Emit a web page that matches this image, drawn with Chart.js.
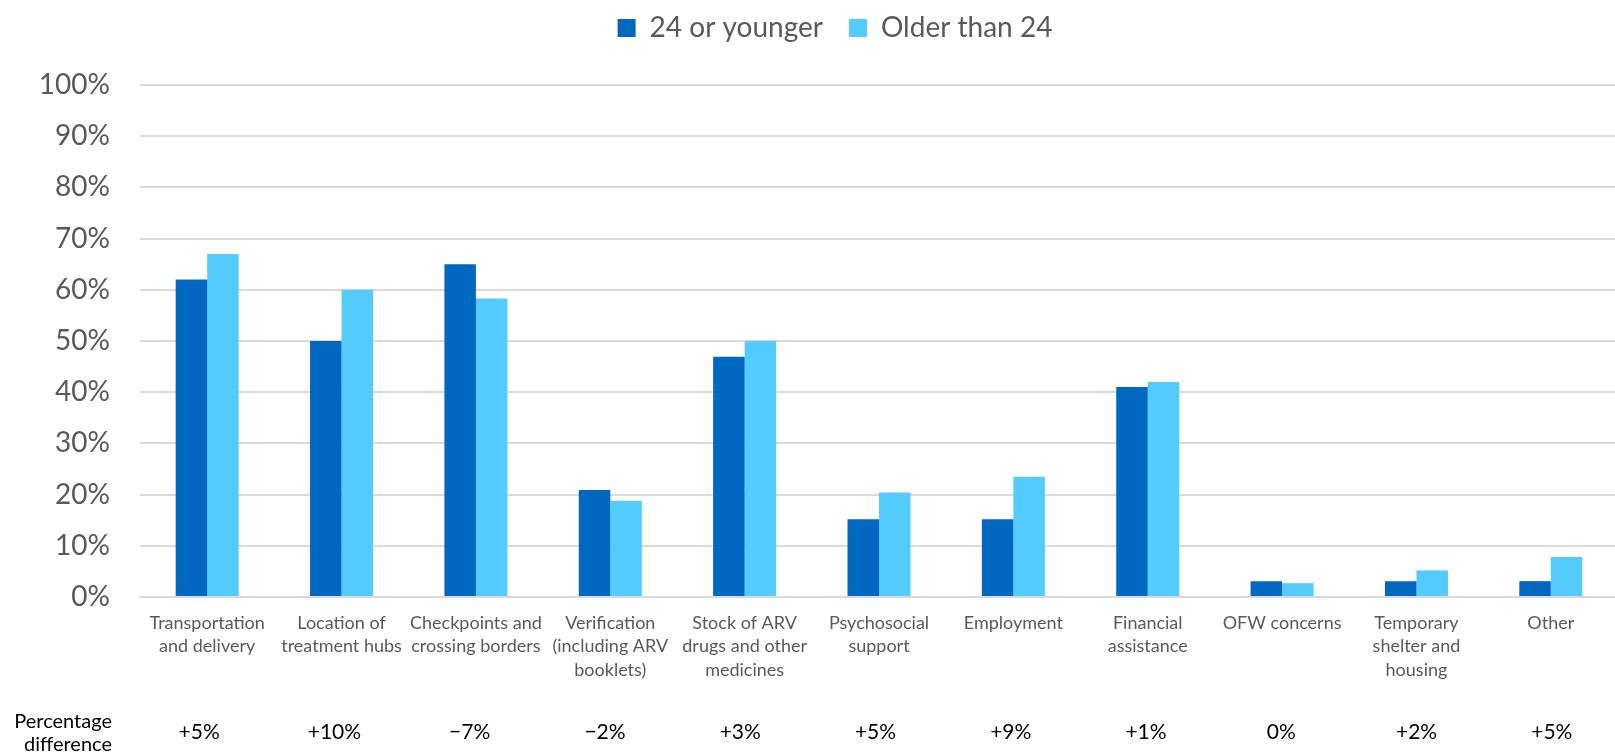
<!DOCTYPE html>
<html>
<head>
<meta charset="utf-8">
<title>Barriers to HIV care by age group</title>
<script src="https://cdn.jsdelivr.net/npm/chart.js@4.4.1/dist/chart.umd.min.js"></script>
<style>
  html, body { margin: 0; padding: 0; background: #ffffff; overflow: hidden; }
  #wrap { position: relative; width: 1618px; height: 755px; }
</style>
</head>
<body>
<div id="wrap"><canvas id="chart"></canvas></div>
<script>
// Categories (multi-line tick labels)
const categories = [
  ["Transportation", "and delivery"],
  ["Location of", "treatment hubs"],
  ["Checkpoints and", "crossing borders"],
  ["Verification", "(including ARV", "booklets)"],
  ["Stock of ARV", "drugs and other", "medicines"],
  ["Psychosocial", "support"],
  ["Employment"],
  ["Financial", "assistance"],
  ["OFW concerns"],
  ["Temporary", "shelter and", "housing"],
  ["Other"]
];

// Share of respondents (%) per age group
const youngerValues = [62, 50, 65, 20.9, 46.9, 15.2, 15.2, 41, 3.1, 3.1, 3.1];
const olderValues   = [67, 60, 58.3, 18.8, 50, 20.4, 23.5, 42, 2.7, 5.2, 7.8];

// Difference row shown under the axis
const diffLabels = ["+5%", "+10%", "\u22127%", "\u22122%", "+3%", "+5%", "+9%", "+1%", "0%", "+2%", "+5%"];
const diffTitle = ["Percentage", "difference"];

// Y axis ticks
const yTicks = [0, 10, 20, 30, 40, 50, 60, 70, 80, 90, 100];

const FONT = "Lato, 'Open Sans', sans-serif";
const GRAY = "#595959";

// Keeps the legend band at a fixed height and nudges it into place
const legendBand = {
  id: "legendBand",
  afterInit(chart) {
    const lg = chart.legend;
    if (!lg) return;
    const fit = lg.fit.bind(lg);
    lg.fit = function () {
      fit();
      this.height = 85;
    };
  },
  afterLayout(chart) {
    const lg = chart.legend;
    if (!lg) return;
    lg.top -= 12;
    lg.left += 26;
    lg.right += 26;
  }
};

// Row of percentage differences beneath the category labels
const diffRow = {
  id: "diffRow",
  afterDraw(chart) {
    const ctx = chart.ctx;
    const x = chart.scales.x;
    ctx.save();
    ctx.fillStyle = "#000000";
    ctx.textBaseline = "middle";
    ctx.font = "20px " + FONT;
    ctx.textAlign = "right";
    ctx.fillText(diffTitle[0], 112, 722);
    ctx.fillText(diffTitle[1], 112, 745);
    ctx.font = "21px " + FONT;
    ctx.textAlign = "center";
    diffLabels.forEach((t, i) => {
      // the row is set slightly left of the bar groups, drifting right across the axis
      ctx.fillText(t, x.getPixelForValue(i) - 8 + 0.9 * i, 732);
    });
    ctx.restore();
  }
};

new Chart(document.getElementById("chart"), {
  type: "bar",
  data: {
    labels: categories,
    datasets: [
      {
        label: "24 or younger",
        data: youngerValues,
        backgroundColor: "#0168c1",
        borderWidth: 0,
        categoryPercentage: 0.469,
        barPercentage: 1.0
      },
      {
        label: "Older than 24",
        data: olderValues,
        backgroundColor: "#54cbff",
        borderWidth: 0,
        categoryPercentage: 0.469,
        barPercentage: 1.0
      }
    ]
  },
  options: {
    responsive: true,
    maintainAspectRatio: false,
    animation: false,
    layout: { padding: 0 },
    plugins: {
      legend: {
        position: "top",
        labels: {
          boxWidth: 18,
          boxHeight: 18,
          padding: 26,
          color: GRAY,
          font: { family: FONT, size: 28 }
        }
      },
      tooltip: { enabled: false }
    },
    scales: {
      x: {
        grid: { display: false, drawTicks: false },
        border: { display: true, color: "#d9d9d9", width: 2 },
        ticks: {
          color: GRAY,
          padding: 14,
          maxRotation: 0,
          autoSkip: false,
          font: { family: FONT, size: 18, lineHeight: 1.32 }
        },
        afterFit(scale) { scale.height = 158; }
      },
      y: {
        min: 0,
        max: 100,
        afterBuildTicks(scale) {
          scale.ticks = yTicks.map(v => ({ value: v }));
        },
        grid: { color: "#d9d9d9", lineWidth: 2, drawTicks: false },
        border: { display: false },
        ticks: {
          color: GRAY,
          padding: 30,
          font: { family: FONT, size: 28 },
          callback: v => v + "%"
        },
        afterFit(scale) { scale.width = 140; }
      }
    }
  },
  plugins: [legendBand, diffRow]
});
</script>
</body>
</html>
